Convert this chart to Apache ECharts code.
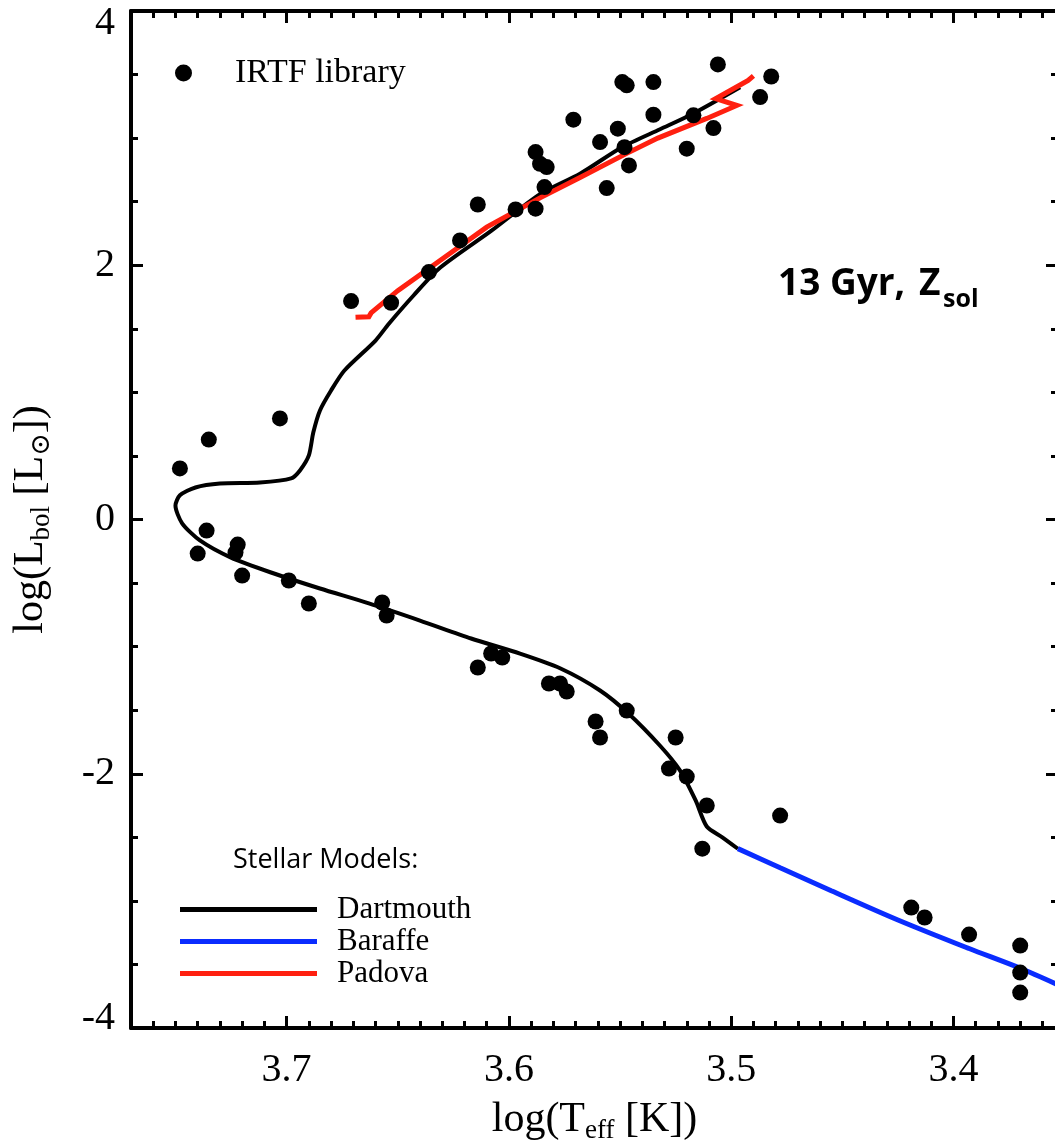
<!DOCTYPE html>
<html>
<head>
<meta charset="utf-8">
<script src="https://cdn.jsdelivr.net/npm/echarts@6/dist/echarts.min.js"></script>
<style>
  html, body { margin: 0; padding: 0; background: #fff; }
  #chart { width: 1055px; height: 1144px; }
</style>
</head>
<body>
<div id="chart"></div>
<script>
// IRTF library stars: log(Teff), log(Lbol)
const irtfTeff = [
  3.671, 3.653, 3.636, 3.622, 3.614, 3.597, 3.588, 3.584, 3.588, 3.586, 3.583, 3.571, 3.559, 3.556,
  3.551, 3.549, 3.547, 3.548, 3.546, 3.535, 3.535, 3.520, 3.517, 3.508, 3.506, 3.487, 3.482,
  3.748, 3.735, 3.703, 3.740, 3.736, 3.722, 3.723, 3.720, 3.699, 3.690, 3.657, 3.655, 3.614, 3.608,
  3.603, 3.582, 3.577, 3.574, 3.547, 3.561, 3.559, 3.525, 3.528, 3.520, 3.511, 3.478, 3.513, 3.419,
  3.413, 3.393, 3.370, 3.370, 3.370
];
const irtfLbol = [
  1.718, 1.705, 1.946, 2.195, 2.478, 2.439, 2.445, 2.615, 2.890, 2.798, 2.772, 3.145, 2.969, 2.607,
  3.074, 3.441, 3.415, 2.929, 2.785, 3.441, 3.184, 2.917, 3.179, 3.079, 3.580, 3.323, 3.485,
  0.402, 0.629, 0.795, -0.268, -0.087, -0.197, -0.260, -0.441, -0.480, -0.661, -0.653, -0.755, -1.164, -1.054,
  -1.086, -1.290, -1.290, -1.353, -1.503, -1.589, -1.715, -1.715, -1.959, -2.022, -2.250, -2.329, -2.589, -3.053,
  -3.131, -3.265, -3.352, -3.564, -3.721
];

// Dartmouth isochrone
const dartmouthTeff = [
  3.497, 3.504, 3.511, 3.516, 3.523, 3.532, 3.546, 3.559, 3.577, 3.595, 3.617, 3.640, 3.663, 3.685,
  3.707, 3.725, 3.739, 3.747, 3.750, 3.748, 3.741, 3.730, 3.712, 3.698, 3.694, 3.690, 3.688, 3.685,
  3.680, 3.674, 3.660, 3.654, 3.643, 3.631, 3.608, 3.586, 3.568, 3.549, 3.532, 3.517, 3.496
];
const dartmouthLbol = [
  -2.59, -2.50, -2.415, -2.21, -1.975, -1.78, -1.53, -1.345, -1.17, -1.055, -0.936, -0.795, -0.66, -0.543,
  -0.417, -0.30, -0.165, -0.03, 0.11, 0.19, 0.252, 0.283, 0.291, 0.323, 0.386, 0.504, 0.684, 0.858,
  1.015, 1.172, 1.408, 1.54, 1.76, 1.98, 2.27, 2.56, 2.72, 2.93, 3.07, 3.194, 3.40
];

// Baraffe low-mass extension
const baraffeTeff = [3.497, 3.478, 3.455, 3.425, 3.393, 3.370, 3.353];
const baraffeLbol = [-2.589, -2.74, -2.92, -3.15, -3.375, -3.53, -3.66];

// Padova isochrone
const padovaTeff = [3.669, 3.663, 3.662, 3.650, 3.636, 3.622, 3.610, 3.586, 3.568, 3.547, 3.533, 3.511, 3.4975, 3.507, 3.4924, 3.490];
const padovaLbol = [1.59, 1.595, 1.625, 1.80, 1.975, 2.15, 2.30, 2.53, 2.69, 2.88, 3.00, 3.155, 3.257, 3.31, 3.454, 3.49];

// axis ticks
const xMajorTicks = [3.4, 3.5, 3.6, 3.7];
const xMinorTicks = [];
for (let i = 336; i <= 376; i++) if (i % 10 !== 0) xMinorTicks.push(i / 100);

const chart = echarts.init(document.getElementById('chart'));
const serif = '"Liberation Serif", "DejaVu Serif", "DejaVu Sans", serif';
const pairs = (xs, ys) => xs.map((x, i) => [x, ys[i]]);

const X_MIN = 3.353;
const X_MAX = 3.77;

function xAxisOf(position, ticks, length, main) {
  const axis = {
    type: 'value',
    position,
    inverse: true,
    min: X_MIN,
    max: X_MAX,
    axisLine: { show: main, onZero: false, lineStyle: { color: '#000', width: 4 } },
    axisTick: { show: true, inside: true, length, customValues: ticks, lineStyle: { color: '#000', width: 3 } },
    axisLabel: { show: false },
    splitLine: { show: false },
  };
  if (main && position === 'bottom') {
    axis.axisLabel = {
      show: true, customValues: ticks, margin: 22, color: '#000',
      fontFamily: serif, fontSize: 40, formatter: (v) => v.toFixed(1),
    };
    axis.name = '{n|log(T}{s|eff}{n| [K])}';
    axis.nameLocation = 'middle';
    axis.nameGap = 68;
    axis.nameTextStyle = {
      rich: {
        n: { fontFamily: serif, fontSize: 42, color: '#000', lineHeight: 48 },
        s: { fontFamily: serif, fontSize: 27, color: '#000', lineHeight: 27, verticalAlign: 'bottom' },
      },
    };
  }
  return axis;
}

function yAxisOf(position, main) {
  const axis = {
    type: 'value',
    position,
    min: -4,
    max: 4,
    interval: 2,
    axisLine: { show: true, onZero: false, lineStyle: { color: '#000', width: 4 } },
    axisTick: { show: true, inside: true, length: 12, lineStyle: { color: '#000', width: 3 } },
    minorTick: { show: true, splitNumber: 4, length: 7, lineStyle: { color: '#000', width: 3 } },
    axisLabel: { show: false },
    splitLine: { show: false },
  };
  if (main) {
    axis.axisLabel = {
      show: true, margin: 16, color: '#000', fontFamily: serif, fontSize: 40,
      // end labels sit slightly inside the frame, like the original plot
      formatter: (v) => (v === 4 ? '{hi|4}' : v === -4 ? '{lo|-4}' : String(v)),
      rich: {
        hi: { fontFamily: serif, fontSize: 40, color: '#000', padding: [24, 0, 0, 0] },
        lo: { fontFamily: serif, fontSize: 40, color: '#000', padding: [0, 0, 20, 0] },
      },
    };
    axis.name = '{n|log(L}{s|bol}{n| [L}{s|⊙}{n|])}';
    axis.nameLocation = 'middle';
    axis.nameRotate = 90;
    axis.nameGap = 76;
    axis.nameTextStyle = {
      rich: {
        n: { fontFamily: serif, fontSize: 42, color: '#000', lineHeight: 48 },
        s: { fontFamily: serif, fontSize: 27, color: '#000', lineHeight: 27, verticalAlign: 'bottom' },
      },
    };
  }
  return axis;
}

chart.setOption({
  animation: false,
  backgroundColor: '#fff',
  grid: { left: 131, top: 11, width: 927, height: 1017, containLabel: false, outerBoundsMode: 'none' },
  xAxis: [
    xAxisOf('bottom', xMajorTicks, 12, true),
    xAxisOf('bottom', xMinorTicks, 7, false),
    xAxisOf('top', xMajorTicks, 12, true),
    xAxisOf('top', xMinorTicks, 7, false),
  ],
  yAxis: [yAxisOf('left', true), yAxisOf('right', false)],
  legend: [
    {
      data: ['IRTF library'],
      left: 175, top: 56, padding: 0,
      icon: 'circle', itemWidth: 17, itemHeight: 17,
      selectedMode: false,
      textStyle: { fontFamily: serif, fontSize: 34, color: '#000', lineHeight: 34, padding: [0, 0, 0, 38] },
    },
    {
      data: ['Dartmouth', 'Baraffe', 'Padova'],
      left: 180, top: 894, padding: 0, orient: 'vertical',
      icon: 'rect', itemWidth: 137, itemHeight: 5, itemGap: 1,
      selectedMode: false,
      textStyle: { fontFamily: serif, fontSize: 31, color: '#000', lineHeight: 26, padding: [0, 0, 0, 15] },
    },
  ],
  graphic: [
    {
      type: 'text', left: 233, top: 847,
      style: { text: 'Stellar Models:', font: '27px "Open Sans", sans-serif', fill: '#000' },
    },
    {
      type: 'text', x: 778, y: 284,
      style: { text: '13 Gyr,', font: 'bold 37px "Open Sans", sans-serif', fill: '#000', verticalAlign: 'middle' },
    },
    {
      type: 'text', x: 919, y: 284,
      style: { text: 'Z', font: 'bold 37px "Open Sans", sans-serif', fill: '#000', verticalAlign: 'middle' },
    },
    {
      type: 'text', x: 943, y: 300,
      style: { text: 'sol', font: 'bold 25px "Open Sans", sans-serif', fill: '#000', verticalAlign: 'middle' },
    },
  ],
  series: [
    {
      name: 'Dartmouth', type: 'line', data: pairs(dartmouthTeff, dartmouthLbol),
      smooth: 0.25, symbol: 'none', z: 3,
      itemStyle: { color: '#000' }, lineStyle: { color: '#000', width: 4 },
    },
    {
      name: 'Baraffe', type: 'line', data: pairs(baraffeTeff, baraffeLbol),
      smooth: 0.3, symbol: 'none', z: 3,
      itemStyle: { color: '#0a2cff' }, lineStyle: { color: '#0a2cff', width: 5 },
    },
    {
      name: 'Padova', type: 'line', data: pairs(padovaTeff, padovaLbol),
      symbol: 'none', z: 4,
      itemStyle: { color: '#ff2010' }, lineStyle: { color: '#ff2010', width: 5, join: 'miter' },
    },
    {
      name: 'IRTF library', type: 'scatter', data: pairs(irtfTeff, irtfLbol),
      symbol: 'circle', symbolSize: 16, z: 5,
      itemStyle: { color: '#000', opacity: 1 },
    },
  ],
});
</script>
</body>
</html>
